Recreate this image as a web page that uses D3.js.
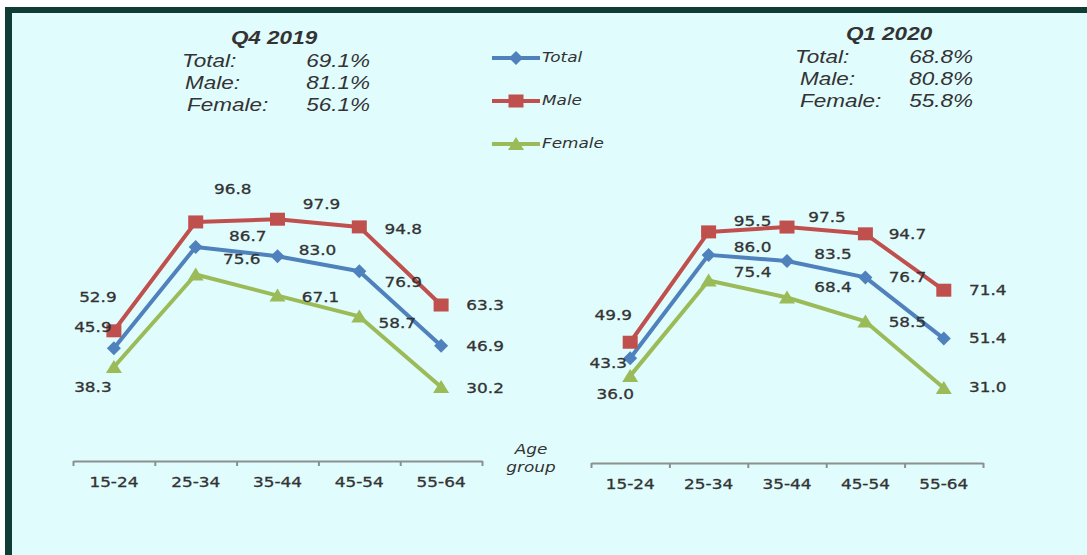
<!DOCTYPE html>
<html>
<head>
<meta charset="utf-8">
<title>Participation by age group</title>
<script src="https://d3js.org/d3.v7.min.js"></script>
<style>
  body { margin: 0; background: #fff; }
  svg text { fill: #333; }
</style>
</head>
<body>
<div id="container"></div>
<script>
const width = 1087;
const height = 555;

// data
const ageGroups = ['15-24', '25-34', '35-44', '45-54', '55-64'];
const seriesNames = ['Total', 'Male', 'Female'];
const q4Total = [45.9, 86.7, 83.0, 76.9, 46.9];
const q4Male = [52.9, 96.8, 97.9, 94.8, 63.3];
const q4Female = [38.3, 75.6, 67.1, 58.7, 30.2];
const q1Total = [43.3, 86.0, 83.5, 76.7, 51.4];
const q1Male = [49.9, 95.5, 97.5, 94.7, 71.4];
const q1Female = [36.0, 75.4, 68.4, 58.5, 31.0];
const q4Summary = [69.1, 81.1, 56.1];
const q1Summary = [68.8, 80.8, 55.8];

const colors = { Total: '#4f81bd', Male: '#c0504d', Female: '#9bbb59' };
const SX = 1.25; // the original is stretched horizontally

// label offsets (dx, dy) from each point, per series
const q4Offsets = {
    Total: [[-21, -21], [52, -10], [40, -6], [44, 11], [44, 1]],
    Male: [[-16, -33], [37, -32], [44, -15], [44, 3], [44, 1]],
    Female: [[-21, 21], [46, -15], [43, 2], [38, 7], [44, 1]]
};
const q1Offsets = {
    Total: [[-22, 5], [44, -7], [46, -6], [42, 0], [44, 0]],
    Male: [[-17, -27], [44, -10], [40, -9], [42, 1], [44, 0]],
    Female: [[-15, 19], [44, -8], [46, -10], [42, 1], [44, 0]]
};

const svg = d3.select('#container').append('svg')
    .attr('width', width)
    .attr('height', height);

// frame
svg.append('rect').attr('x', 5).attr('y', 7).attr('width', width).attr('height', height)
    .attr('fill', '#e1fcfd');
svg.append('rect').attr('x', 5).attr('y', 7).attr('width', width).attr('height', 6)
    .attr('fill', '#0f3d36');
svg.append('rect').attr('x', 5).attr('y', 7).attr('width', 7).attr('height', height)
    .attr('fill', '#0f3d36');

function addText(g, x, y, str, opts) {
    const t = g.append('text')
        .attr('transform', `translate(${x},${y}) scale(${SX},1)`)
        .attr('text-anchor', opts.anchor || 'start')
        .attr('font-family', opts.family || 'DejaVu Sans')
        .attr('font-size', opts.size || 13.5)
        .attr('font-style', opts.style || 'normal')
        .attr('font-weight', opts.weight || 'normal')
        .text(str);
    if (opts.central) t.attr('dominant-baseline', 'central');
    return t;
}

function marker(g, name, x, y) {
    const c = colors[name];
    if (name === 'Male') {
        g.append('rect').attr('x', x - 7.5).attr('y', y - 6.5)
            .attr('width', 15).attr('height', 13).attr('fill', c);
    } else if (name === 'Total') {
        g.append('path')
            .attr('d', `M${x},${y - 7}L${x + 7},${y}L${x},${y + 7}L${x - 7},${y}Z`)
            .attr('fill', c);
    } else {
        g.append('path')
            .attr('d', `M${x},${y - 7}L${x + 8},${y + 6}L${x - 8},${y + 6}Z`)
            .attr('fill', c);
    }
}

function drawPanel(cfg) {
    const g = svg.append('g');
    const x = d3.scaleBand().domain(ageGroups).range(cfg.xRange);
    const y = d3.scaleLinear().domain([0, 100]).range(cfg.yRange);
    const edge = d3.scaleLinear().domain([0, ageGroups.length]).range(cfg.xRange);
    const cx = d => x(d) + x.bandwidth() / 2;

    // axis with ticks between categories
    const ax = g.append('g')
        .attr('transform', `translate(0,${cfg.axisY})`)
        .call(d3.axisBottom(edge).tickValues(d3.range(ageGroups.length + 1))
            .tickSize(5).tickSizeOuter(0).tickFormat(''));
    ax.selectAll('path, line').attr('stroke', '#8a8f8f').attr('stroke-width', 2);

    const lab = g.append('g')
        .attr('transform', `translate(0,${cfg.axisY})`)
        .call(d3.axisBottom(x).tickSize(0).tickPadding(16));
    lab.select('.domain').remove();
    lab.selectAll('text')
        .attr('transform', `scale(${SX},1)`)
        .attr('font-family', 'DejaVu Sans')
        .attr('font-size', 13.5)
        .attr('fill', '#333')
        .attr('stroke', '#333').attr('stroke-width', 0.3);

    const line = d3.line().x((d, i) => cx(ageGroups[i])).y(d => y(d));

    seriesNames.forEach(name => {
        const vals = cfg.series[name];
        g.append('path')
            .datum(vals)
            .attr('fill', 'none')
            .attr('stroke', colors[name])
            .attr('stroke-width', 4)
            .attr('stroke-linejoin', 'round')
            .attr('d', line);
        vals.forEach((v, i) => marker(g, name, cx(ageGroups[i]), y(v)));
    });

    seriesNames.forEach(name => {
        cfg.series[name].forEach((v, i) => {
            const off = cfg.offsets[name][i];
            addText(g, cx(ageGroups[i]) + off[0], y(v) + off[1], v.toFixed(1),
                { anchor: 'middle', central: true, size: 13.5 })
                .attr('stroke', '#333').attr('stroke-width', 0.3);
        });
    });

    // summary block
    const hf = 'Liberation Sans';
    addText(g, cfg.head.titleX, cfg.head.titleY, cfg.title,
        { anchor: 'middle', family: hf, size: 18, style: 'italic', weight: 'bold' });
    seriesNames.forEach((name, i) => {
        addText(g, cfg.head.nameX[i], cfg.head.rowY[i], name + ':',
            { family: hf, size: 18, style: 'italic' });
        addText(g, cfg.head.valX, cfg.head.rowY[i], cfg.summary[i].toFixed(1) + '%',
            { anchor: 'end', family: hf, size: 18, style: 'italic' });
    });
}

drawPanel({
    title: 'Q4 2019',
    xRange: [73, 482], yRange: [462, 214], axisY: 461,
    series: { Total: q4Total, Male: q4Male, Female: q4Female },
    offsets: q4Offsets,
    summary: q4Summary,
    head: { titleX: 274, titleY: 44, nameX: [182, 185, 187], rowY: [67, 89, 111], valX: 370 }
});

drawPanel({
    title: 'Q1 2020',
    xRange: [591, 983], yRange: [463, 221], axisY: 463,
    series: { Total: q1Total, Male: q1Male, Female: q1Female },
    offsets: q1Offsets,
    summary: q1Summary,
    head: { titleX: 889, titleY: 40, nameX: [795, 800, 800], rowY: [63, 85, 107], valX: 973 }
});

// legend
const legend = svg.append('g');
seriesNames.forEach((name, i) => {
    const ly = 58 + i * 43;
    legend.append('line')
        .attr('x1', 492).attr('x2', 540).attr('y1', ly).attr('y2', ly)
        .attr('stroke', colors[name]).attr('stroke-width', 4);
    marker(legend, name, 516, ly);
    addText(legend, 542, ly, name, { size: 13.5, style: 'italic', central: true });
});

// axis title
addText(svg, 531, 454, 'Age', { anchor: 'middle', size: 13.5, style: 'italic' });
addText(svg, 531, 472, 'group', { anchor: 'middle', size: 13.5, style: 'italic' });
</script>
</body>
</html>
